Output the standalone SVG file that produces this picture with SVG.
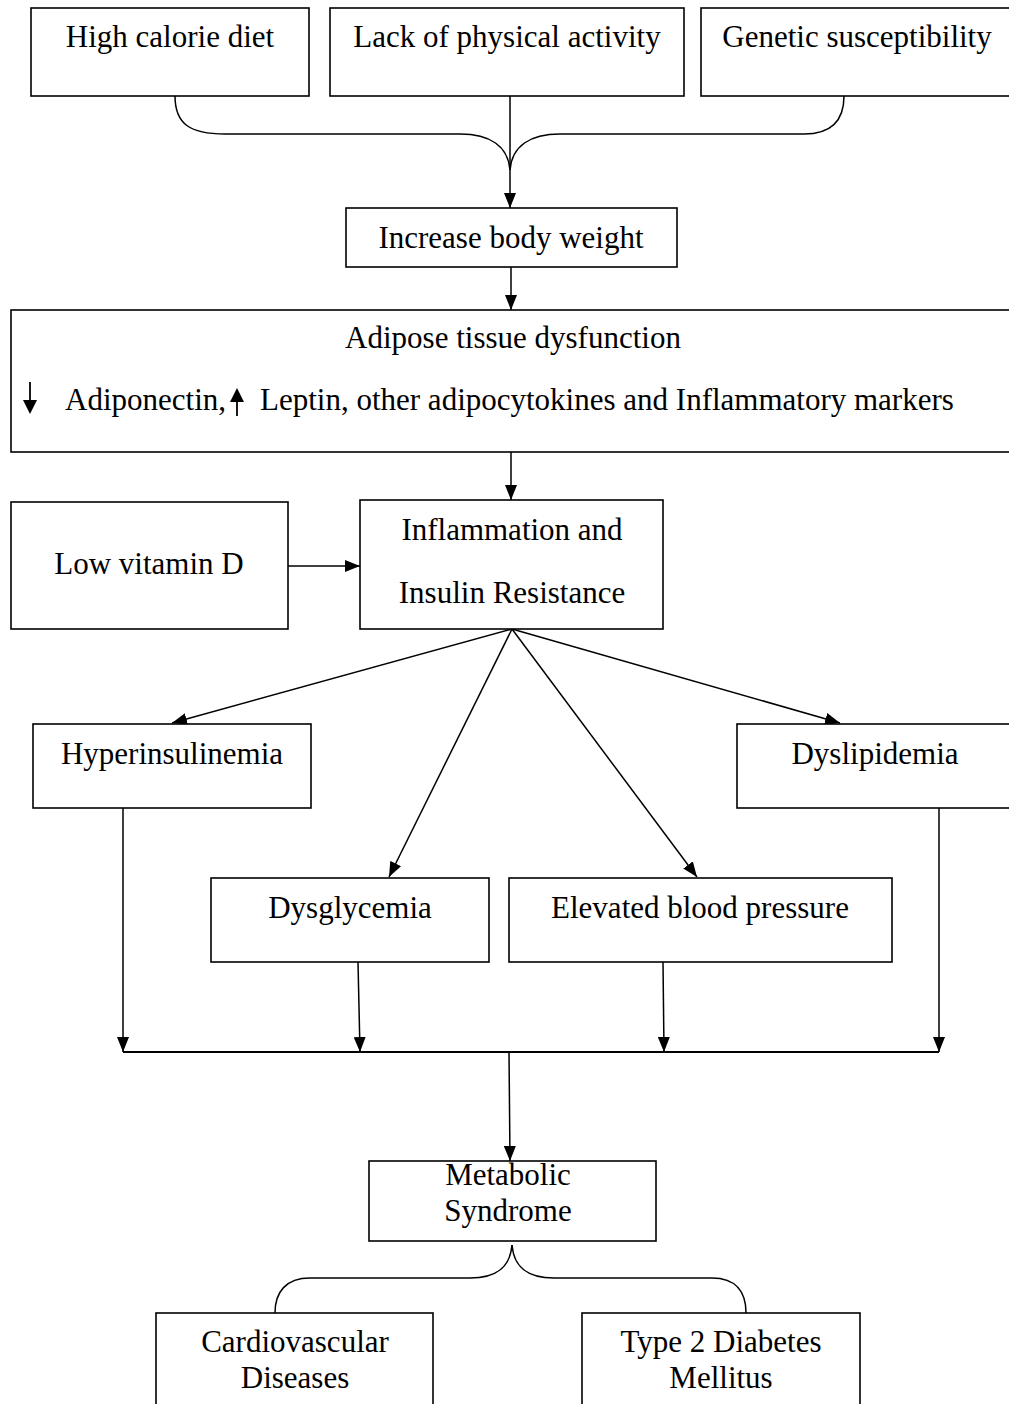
<svg xmlns="http://www.w3.org/2000/svg" width="1009" height="1404" viewBox="0 0 1009 1404">
<style>
.box{fill:#fff;stroke:#000;stroke-width:1.6}
.t{font-family:"Liberation Serif","Times New Roman",serif;font-size:31px;fill:#000;text-anchor:middle}
.ts{font-family:"Liberation Serif","Times New Roman",serif;font-size:31px;fill:#000}
.c{fill:none;stroke:#000;stroke-width:1.5}
.ca{fill:none;stroke:#000;stroke-width:1.5;marker-end:url(#ah)}
</style>
<defs>
<marker id="ah" markerWidth="15" markerHeight="12" refX="15" refY="6" orient="auto" markerUnits="userSpaceOnUse">
<path d="M0,0 L15,6 L0,12 Z" fill="#000"/>
</marker>
</defs>
<rect width="1009" height="1404" fill="#fff"/>
<g id="connectors">
<path class="c" d="M175,96 C175,124 190,134 225,134 L460,134 C490,134 508,146 510,170"/>
<path class="c" d="M844,96 C844,124 828,134 804,134 L560,134 C530,134 512,146 510,170"/>
<path class="ca" d="M510,96 L510,208"/>
<path class="ca" d="M511,267 L511,310"/>
<path class="ca" d="M511,452 L511,500"/>
<path class="ca" d="M288,566 L360,566"/>
<path class="ca" d="M512,629 L172,723"/>
<path class="ca" d="M512,629 L840,723"/>
<path class="ca" d="M512,629 L389,877"/>
<path class="ca" d="M512,629 L697,877"/>
<path class="ca" d="M123,808 L123,1052"/>
<path class="ca" d="M358,962 L360,1052"/>
<path class="ca" d="M663,962 L664,1052"/>
<path class="ca" d="M939,808 L939,1052"/>
<path class="c" style="stroke-width:2.2" d="M123,1052 L939,1052"/>
<path class="ca" d="M509,1052 L510,1161"/>
<path class="c" d="M512,1245 C510,1268 496,1278 470,1278 L310,1278 C286,1278 275,1292 275,1313"/>
<path class="c" d="M512,1245 C514,1268 528,1278 554,1278 L712,1278 C736,1278 746,1292 746,1313"/>
</g>
<g id="n-high-calorie">
<rect class="box" x="31" y="8" width="278" height="88"/>
<text class="t" x="170" y="47">High calorie diet</text>
</g>
<g id="n-lack-activity">
<rect class="box" x="330" y="8" width="354" height="88"/>
<text class="t" x="507" y="47">Lack of physical activity</text>
</g>
<g id="n-genetic">
<rect class="box" x="701" y="8" width="320" height="88"/>
<text class="t" x="857" y="47">Genetic susceptibility</text>
</g>
<g id="n-body-weight">
<rect class="box" x="346" y="208" width="331" height="59"/>
<text class="t" x="511" y="248">Increase body weight</text>
</g>
<g id="n-adipose">
<rect class="box" x="11" y="310" width="1010" height="142"/>
<text class="t" x="513" y="348">Adipose tissue dysfunction</text>
<path d="M30,382 L30,404" stroke="#000" stroke-width="1.8"/>
<path d="M23,400 L37,400 L30,414 Z" fill="#000"/>
<path d="M237,416 L237,398" stroke="#000" stroke-width="1.8"/>
<path d="M230,402 L244,402 L237,388 Z" fill="#000"/>
<text class="ts" x="65" y="410">Adiponectin,</text>
<text class="ts" x="260" y="410">Leptin, other adipocytokines and Inflammatory markers</text>
</g>
<g id="n-vitamin-d">
<rect class="box" x="11" y="502" width="277" height="127"/>
<text class="t" x="149" y="574">Low vitamin D</text>
</g>
<g id="n-inflammation">
<rect class="box" x="360" y="500" width="303" height="129"/>
<text class="t" x="512" y="540">Inflammation and</text>
<text class="t" x="512" y="603">Insulin Resistance</text>
</g>
<g id="n-hyperinsulinemia">
<rect class="box" x="33" y="724" width="278" height="84"/>
<text class="t" x="172" y="764">Hyperinsulinemia</text>
</g>
<g id="n-dyslipidemia">
<rect class="box" x="737" y="724" width="284" height="84"/>
<text class="t" x="875" y="764">Dyslipidemia</text>
</g>
<g id="n-dysglycemia">
<rect class="box" x="211" y="878" width="278" height="84"/>
<text class="t" x="350" y="918">Dysglycemia</text>
</g>
<g id="n-blood-pressure">
<rect class="box" x="509" y="878" width="383" height="84"/>
<text class="t" x="700" y="918">Elevated blood pressure</text>
</g>
<g id="n-metabolic">
<rect class="box" x="369" y="1161" width="287" height="80"/>
<text class="t" x="508" y="1185">Metabolic</text>
<text class="t" x="508" y="1221">Syndrome</text>
</g>
<g id="n-cvd">
<rect class="box" x="156" y="1313" width="277" height="110"/>
<text class="t" x="295" y="1352">Cardiovascular</text>
<text class="t" x="295" y="1388">Diseases</text>
</g>
<g id="n-t2dm">
<rect class="box" x="582" y="1313" width="278" height="110"/>
<text class="t" x="721" y="1352">Type 2 Diabetes</text>
<text class="t" x="721" y="1388">Mellitus</text>
</g>
</svg>
